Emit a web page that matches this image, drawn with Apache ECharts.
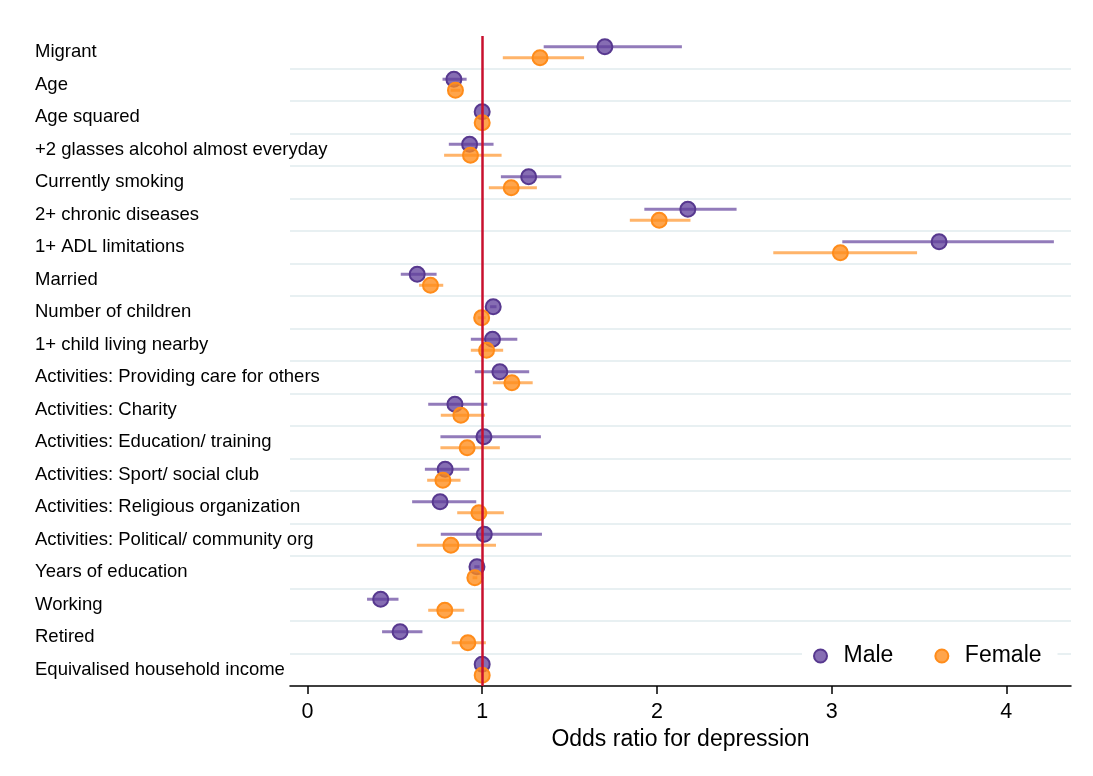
<!DOCTYPE html>
<html>
<head>
<meta charset="utf-8">
<script src="https://cdn.jsdelivr.net/npm/echarts@6/dist/echarts.min.js"></script>
<style>
html,body{margin:0;padding:0;background:#fff;}
#chart{width:1093px;height:776px;}
</style>
</head>
<body>
<div id="chart"></div>
<script>
const categories = [
  "Migrant",
  "Age",
  "Age squared",
  "+2 glasses alcohol almost everyday",
  "Currently smoking",
  "2+ chronic diseases",
  "1+ ADL limitations",
  "Married",
  "Number of children",
  "1+ child living nearby",
  "Activities: Providing care for others",
  "Activities: Charity",
  "Activities: Education/ training",
  "Activities: Sport/ social club",
  "Activities: Religious organization",
  "Activities: Political/ community org",
  "Years of education",
  "Working",
  "Retired",
  "Equivalised household income"
];

const maleOR = [1.702, 0.838, 1.000, 0.928, 1.266, 2.177, 3.615, 0.628, 1.063, 1.059, 1.101, 0.844, 1.010, 0.788, 0.759, 1.012, 0.970, 0.419, 0.530, 1.000];
const maleLo = [1.352, 0.773, 0.995, 0.809, 1.107, 1.928, 3.061, 0.534, 1.045, 0.935, 0.958, 0.691, 0.761, 0.672, 0.599, 0.763, 0.955, 0.341, 0.427, 0.995];
const maleHi = [2.143, 0.911, 1.005, 1.065, 1.453, 2.456, 4.272, 0.739, 1.082, 1.201, 1.269, 1.029, 1.336, 0.926, 0.966, 1.342, 0.985, 0.521, 0.658, 1.005];

const femaleOR = [1.331, 0.847, 1.000, 0.933, 1.166, 2.013, 3.050, 0.704, 0.997, 1.025, 1.170, 0.878, 0.914, 0.775, 0.981, 0.821, 0.958, 0.786, 0.918, 1.000];
const femaleLo = [1.118, 0.820, 0.995, 0.782, 1.038, 1.845, 2.666, 0.639, 0.975, 0.935, 1.061, 0.763, 0.761, 0.685, 0.857, 0.626, 0.945, 0.691, 0.826, 0.995];
const femaleHi = [1.583, 0.875, 1.005, 1.111, 1.313, 2.192, 3.489, 0.777, 1.020, 1.120, 1.289, 1.016, 1.101, 0.876, 1.124, 1.079, 0.972, 0.897, 1.021, 1.005];

const xTicks = [0, 1, 2, 3, 4];
const refValue = 1;

const FONT = "'Liberation Sans', Arial, sans-serif";
const SHIFT = 0.17; // within-row offset (fraction of row) for the two groups

const maleDots = maleOR.map((v, i) => [v, i - SHIFT]);
const femaleDots = femaleOR.map((v, i) => [v, i + SHIFT]);
const maleCI = maleLo.map((lo, i) => [lo, maleHi[i], i - SHIFT]);
const femaleCI = femaleLo.map((lo, i) => [lo, femaleHi[i], i + SHIFT]);

function ciRenderer(color) {
  return function (params, api) {
    const p1 = api.coord([api.value(0), api.value(2)]);
    const p2 = api.coord([api.value(1), api.value(2)]);
    return {
      type: 'line',
      shape: { x1: p1[0], y1: p1[1], x2: p2[0], y2: p2[1] },
      style: { stroke: color, lineWidth: 3 }
    };
  };
}

const chart = echarts.init(document.getElementById('chart'), null, { renderer: 'canvas' });
chart.setOption({
  animation: false,
  backgroundColor: '#fff',
  textStyle: { fontFamily: FONT },
  grid: { left: 290, right: 22, top: 36, bottom: 90 },
  xAxis: {
    type: 'value',
    min: -0.1,
    max: 4.37,
    name: 'Odds ratio for depression',
    nameLocation: 'middle',
    nameGap: 40,
    nameTextStyle: { fontSize: 23, color: '#000', fontFamily: FONT },
    axisLine: { show: true, onZero: false, lineStyle: { color: '#000', width: 1.5 } },
    axisTick: { show: true, length: 8, customValues: xTicks, lineStyle: { color: '#000', width: 1.5 } },
    axisLabel: { show: true, customValues: xTicks, fontSize: 21.5, color: '#000', margin: 15, fontFamily: FONT },
    splitLine: { show: false }
  },
  yAxis: [
    {
      type: 'category',
      data: categories,
      inverse: true,
      boundaryGap: true,
      axisLine: { show: false },
      axisTick: { show: false },
      axisLabel: {
        interval: 0,
        align: 'left',
        margin: 255,
        fontSize: 18.5,
        color: '#000',
        fontFamily: FONT,
        padding: [0, 0, 8, 0]
      },
      splitLine: {
        show: true,
        interval: 0,
        showMinLine: false,
        showMaxLine: false,
        lineStyle: { color: '#e8f0f2', width: 2 }
      }
    },
    {
      type: 'value',
      min: -0.5,
      max: 19.5,
      inverse: true,
      show: false
    }
  ],
  legend: {
    data: ['Male', 'Female'],
    left: 802,
    top: 640,
    orient: 'horizontal',
    itemWidth: 36,
    itemHeight: 13,
    itemGap: 41,
    padding: [4, 16, 4, 11],
    backgroundColor: '#fff',
    textStyle: { fontSize: 23, color: '#000', fontFamily: FONT, lineHeight: 24 }
  },
  series: [
    {
      name: 'Male CI',
      type: 'custom',
      yAxisIndex: 1,
      renderItem: ciRenderer('rgba(94,60,153,0.68)'),
      encode: { x: [0, 1], y: 2 },
      data: maleCI,
      z: 2,
      silent: true
    },
    {
      name: 'Female CI',
      type: 'custom',
      yAxisIndex: 1,
      renderItem: ciRenderer('rgba(255,140,26,0.65)'),
      encode: { x: [0, 1], y: 2 },
      data: femaleCI,
      z: 2,
      silent: true
    },
    {
      name: 'ref',
      type: 'scatter',
      yAxisIndex: 1,
      data: [],
      z: 3,
      markLine: {
        silent: true,
        symbol: ['none', 'none'],
        label: { show: false },
        lineStyle: { color: '#c8102e', width: 2.5, type: 'solid' },
        data: [{ xAxis: refValue }]
      }
    },
    {
      name: 'Male',
      type: 'scatter',
      yAxisIndex: 1,
      data: maleDots,
      symbol: 'circle',
      symbolSize: 15,
      z: 4,
      itemStyle: { color: 'rgba(94,60,153,0.75)', borderColor: '#57388f', borderWidth: 2, opacity: 1 }
    },
    {
      name: 'Female',
      type: 'scatter',
      yAxisIndex: 1,
      data: femaleDots,
      symbol: 'circle',
      symbolSize: 15,
      z: 4,
      itemStyle: { color: 'rgba(255,140,26,0.78)', borderColor: '#ff8c1a', borderWidth: 2, opacity: 1 }
    }
  ]
});
</script>
</body>
</html>
